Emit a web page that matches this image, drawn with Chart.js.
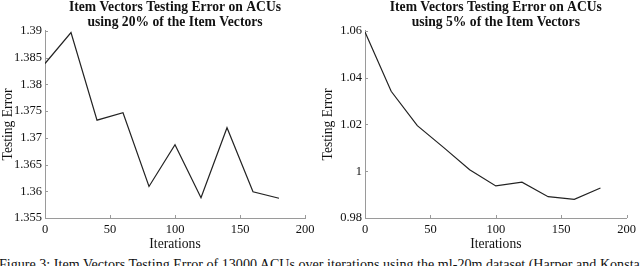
<!DOCTYPE html>
<html>
<head>
<meta charset="utf-8">
<script src="https://cdn.jsdelivr.net/npm/chart.js@4"></script>
<style>
  body { margin: 0; background: #fff; }
  #wrap { position: relative; width: 640px; height: 266px; overflow: hidden; }
  .box { position: absolute; top: 0; width: 320px; height: 254px; }
  #caption {
    position: absolute; left: -1px; top: 256px; white-space: nowrap;
    font-family: 'Liberation Serif', 'Times New Roman', serif; font-size: 14.1px;
    line-height: 16px; color: #111;
  }
</style>
</head>
<body>
<div id="wrap">
  <div class="box" style="left:0"><canvas id="left"></canvas></div>
  <div class="box" style="left:320px"><canvas id="right"></canvas></div>
  <div id="caption">Figure 3: Item Vectors Testing Error of 13000 ACUs over iterations using the ml-20m dataset (Harper and Konstan, 2015).</div>
</div>
<script>
// iterations on the x axis (both panels)
var iterations = [0, 20, 40, 60, 80, 100, 120, 140, 160, 180];

// testing error, 20% of item vectors
var err20 = [1.3839, 1.3897, 1.3733, 1.3747, 1.3609, 1.3687, 1.3588, 1.3719, 1.3599, 1.3587];

// testing error, 5% of item vectors
var err5 = [1.0595, 1.0342, 1.0195, 1.0102, 1.0006, 0.9937, 0.9953, 0.9891, 0.9880, 0.9928];

var titles20 = ['Item Vectors Testing Error on ACUs', 'using 20% of the Item Vectors'];
var titles5 = ['Item Vectors Testing Error on ACUs', 'using 5% of the Item Vectors'];
var xTicks = [0, 50, 100, 150, 200];

Chart.defaults.font.family = "'Liberation Serif', 'Times New Roman', serif";
Chart.defaults.color = '#111';

var axisGrey = '#9a9a9a';

//**** small inward tick marks like matlab
var inwardTicks = {
    id: 'inwardTicks',
    afterDatasetsDraw: function(chart) {
        var ctx = chart.ctx, area = chart.chartArea;
        var xs = chart.scales.x, ys = chart.scales.y;
        ctx.save();
        ctx.strokeStyle = axisGrey;
        ctx.lineWidth = 1;
        ctx.beginPath();
        xs.ticks.forEach(function(t) {
            var px = Math.round(xs.getPixelForValue(t.value)) + 0.5;
            ctx.moveTo(px, area.bottom);
            ctx.lineTo(px, area.bottom - 3);
        });
        ys.ticks.forEach(function(t) {
            var py = Math.round(ys.getPixelForValue(t.value)) + 0.5;
            ctx.moveTo(area.left, py);
            ctx.lineTo(area.left + 3, py);
        });
        ctx.stroke();
        ctx.restore();
    }
};

function makePanel(id, values, title, yMin, yMax, yStep, rightPad) {
    var pts = iterations.map(function(it, i) { return {x: it, y: values[i]}; });
    return new Chart(document.getElementById(id), {
        type: 'line',
        data: {
            datasets: [{
                data: pts,
                borderColor: '#222',
                borderWidth: 1.2,
                pointRadius: 0,
                tension: 0,
                fill: false
            }]
        },
        options: {
            responsive: true,
            maintainAspectRatio: false,
            animation: false,
            layout: { padding: { left: 0, right: rightPad, top: 0, bottom: 0 } },
            plugins: {
                legend: { display: false },
                tooltip: { enabled: false },
                title: {
                    display: true,
                    text: title,
                    fullSize: false,
                    color: '#111',
                    font: { size: 13.6, weight: 'bold', lineHeight: 1.1 },
                    padding: { top: 0, bottom: 1 }
                }
            },
            scales: {
                x: {
                    type: 'linear',
                    min: 0,
                    max: 200,
                    afterBuildTicks: function(s) { s.ticks = xTicks.map(function(v) { return {value: v}; }); },
                    grid: { display: false, drawTicks: false },
                    border: { display: true, color: axisGrey, width: 1 },
                    ticks: { padding: 4, font: { size: 12.5 }, maxRotation: 0 },
                    title: { display: true, text: 'Iterations', font: { size: 13.6 }, padding: { top: 0, bottom: 1 } },
                    afterFit: function(s) { s.height = 36; }
                },
                y: {
                    min: yMin,
                    max: yMax,
                    grid: { display: false, drawTicks: false },
                    border: { display: true, color: axisGrey, width: 1 },
                    ticks: {
                        stepSize: yStep,
                        padding: 3,
                        font: { size: 12.5 },
                        callback: function(v) { return parseFloat(v.toFixed(3)).toString(); }
                    },
                    title: { display: true, text: 'Testing Error', font: { size: 13.6 }, padding: { top: 0, bottom: 0 } },
                    afterFit: function(s) { s.width = 45; }
                }
            }
        },
        plugins: [inwardTicks]
    });
}

makePanel('left', err20, titles20, 1.355, 1.39, 0.005, 15);
makePanel('right', err5, titles5, 0.98, 1.06, 0.02, 9);
</script>
</body>
</html>
